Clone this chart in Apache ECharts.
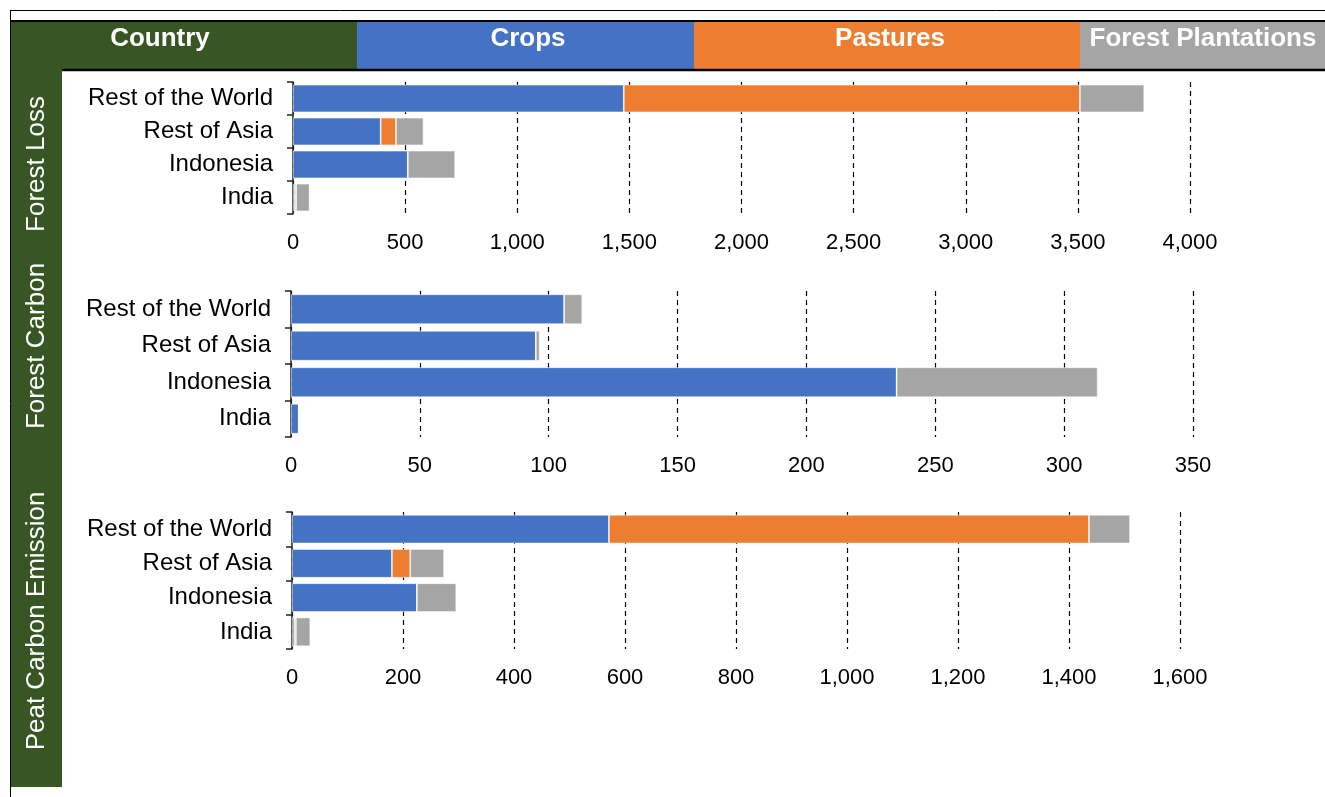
<!DOCTYPE html>
<html>
<head>
<meta charset="utf-8">
<script src="https://cdn.jsdelivr.net/npm/echarts@6/dist/echarts.min.js"></script>
<style>
html,body{margin:0;padding:0;background:#fff;}
#chart{width:1325px;height:797px;}
</style>
</head>
<body>
<div id="chart"></div>
<script>
// ---- data ----
const countries = ['Rest of the World', 'Rest of Asia', 'Indonesia', 'India'];
const seriesNames = ['Crops', 'Pastures', 'Forest Plantations'];
const panelNames = ['Forest Loss', 'Forest Carbon', 'Peat Carbon Emission'];

const forestLossCrops    = [1475, 391, 512, 8];
const forestLossPastures = [2034, 68, 0, 6];
const forestLossForest   = [287, 123, 211, 60];

const forestCarbonCrops    = [106, 95, 235, 3];
const forestCarbonPastures = [0, 0, 0, 0];
const forestCarbonForest   = [7, 1.5, 78, 0];

const peatCrops    = [571, 180, 225, 4];
const peatPastures = [865, 33, 0, 3];
const peatForest   = [74, 61, 71, 26];

const axisMax = [4000, 350, 1600];
const axisInterval = [500, 50, 200];

// ---- styles ----
const colors = ['#4472C4', '#ED7D31', '#A5A5A5'];
const green = '#375623';
const FONT = 'Liberation Sans, Arial, sans-serif';

const panels = [
  [forestLossCrops, forestLossPastures, forestLossForest],
  [forestCarbonCrops, forestCarbonPastures, forestCarbonForest],
  [peatCrops, peatPastures, peatForest]
];

const grids = [
  {left: 293, right: 135, top: 82, height: 132},
  {left: 291, right: 132, top: 291, height: 146},
  {left: 292, right: 145, top: 512, height: 137}
];
const gaps = ['16%', '18%', '16%'];

const chart = echarts.init(document.getElementById('chart'), null, {renderer: 'canvas'});

const xAxes = [], yAxes = [], series = [];
panels.forEach((p, i) => {
  xAxes.push({
    type: 'value', gridIndex: i, min: 0, max: axisMax[i], interval: axisInterval[i],
    axisLine: {show: false}, axisTick: {show: false},
    axisLabel: {
      color: '#000', fontSize: 22, fontFamily: FONT, margin: 18,
      formatter: v => v.toLocaleString('en-US')
    },
    splitLine: {show: true, lineStyle: {color: '#000', type: [5, 4], width: 1.2}}
  });
  yAxes.push({
    type: 'category', gridIndex: i, data: countries, inverse: true,
    axisLine: {show: true, lineStyle: {color: '#222', width: 1.5}},
    axisTick: {show: true, length: 6, lineStyle: {color: '#222', width: 1.5}},
    axisLabel: {color: '#000', fontSize: 24, fontFamily: FONT, margin: 20},
    splitLine: {show: false}
  });
  p.forEach((vals, k) => {
    series.push({
      name: seriesNames[k], type: 'bar', stack: 'p' + i,
      xAxisIndex: i, yAxisIndex: i, data: vals,
      barCategoryGap: gaps[i],
      itemStyle: {color: colors[k], borderColor: 'rgba(255,255,255,0.7)', borderWidth: 0.8},
      emphasis: {disabled: true}, animation: false
    });
  });
});

const headerBoxes = [
  {x: 11, w: 346, color: green, text: 'Country', cx: 160},
  {x: 357, w: 337, color: colors[0], text: 'Crops', cx: 528},
  {x: 694, w: 386, color: colors[1], text: 'Pastures', cx: 890},
  {x: 1080, w: 245, color: colors[2], text: 'Forest Plantations', cx: 1203}
];

const graphics = [];
graphics.push({type: 'line', shape: {x1: 11, y1: 10.5, x2: 1325, y2: 10.5}, style: {stroke: '#000', lineWidth: 1}, z: 10});
graphics.push({type: 'line', shape: {x1: 10.5, y1: 10, x2: 10.5, y2: 797}, style: {stroke: '#000', lineWidth: 1}, z: 10});
graphics.push({type: 'rect', shape: {x: 11, y: 70, width: 51, height: 717}, style: {fill: green}, z: 10});
headerBoxes.forEach(b => {
  graphics.push({type: 'rect', shape: {x: b.x, y: 21, width: b.w, height: 49}, style: {fill: b.color}, z: 10});
  graphics.push({type: 'text', x: b.cx, y: 39, style: {
    text: b.text, fill: '#fff', font: 'bold 26px ' + FONT, textAlign: 'center', textVerticalAlign: 'middle'
  }, z: 11});
});
graphics.push({type: 'line', shape: {x1: 11, y1: 21, x2: 1325, y2: 21}, style: {stroke: '#000', lineWidth: 2}, z: 12});
graphics.push({type: 'line', shape: {x1: 62, y1: 70, x2: 1325, y2: 70}, style: {stroke: '#000', lineWidth: 2.5}, z: 12});
const titleY = [164, 346, 621];
panelNames.forEach((t, i) => {
  graphics.push({type: 'text', x: 37, y: titleY[i], rotation: Math.PI / 2, style: {
    text: t, fill: '#fff', font: '26px ' + FONT, textAlign: 'center', textVerticalAlign: 'middle'
  }, z: 11});
});

chart.setOption({
  animation: false,
  backgroundColor: '#fff',
  grid: grids,
  xAxis: xAxes,
  yAxis: yAxes,
  series: series,
  graphic: graphics
});
</script>
</body>
</html>
